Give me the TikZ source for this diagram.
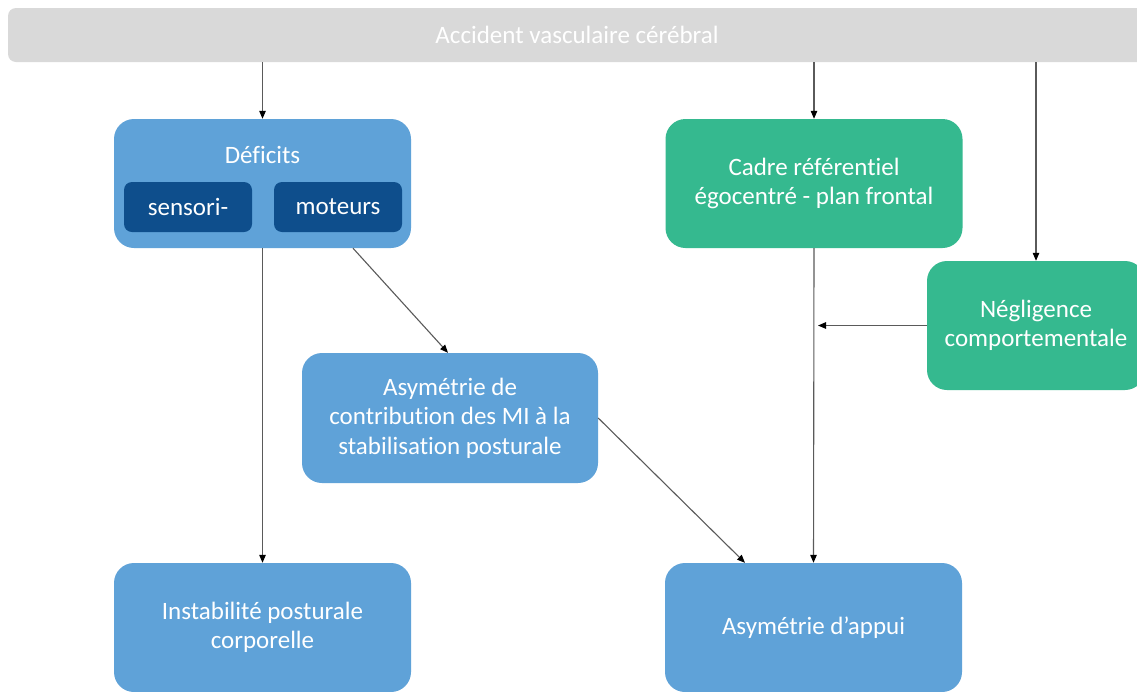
\documentclass[tikz,border=0pt]{standalone}
\usepackage{fontspec}
\setmainfont{Carlito}[Ligatures={NoCommon,NoRare,NoDiscretionary}]
\usetikzlibrary{arrows.meta,calc}
\definecolor{boxblue}{HTML}{5FA2D8}
\definecolor{boxgreen}{HTML}{35B98F}
\definecolor{innerblue}{HTML}{0E4E8C}
\definecolor{bargray}{HTML}{D9D9D9}
\definecolor{linegray}{HTML}{5A5A5A}
\begin{document}
\begin{tikzpicture}[x=1pt,y=-1pt,
  box/.style={rounded corners=20pt, inner sep=0pt, text=white, align=center,
    minimum width=297pt, minimum height=129pt, font=\fontsize{25}{29.5}\selectfont},
  bluebox/.style={box, fill=boxblue},
  greenbox/.style={box, fill=boxgreen},
  innerbox/.style={rounded corners=8pt, fill=innerblue, inner sep=0pt, text=white,
    minimum width=128pt, minimum height=50pt, font=\fontsize{25}{29.5}\selectfont},
  txt/.style={text=white, inner sep=0pt, font=\fontsize{25}{29.5}\selectfont},
  link/.style={draw=linegray, line width=1.1pt, -{Triangle[length=8pt,width=6.5pt,fill=black,color=black]}}]
\useasboundingbox (0,0) rectangle (1137,691);
\clip (0,0) rectangle (1137,691);
\fill[white] (0,0) rectangle (1137,691);
% top bar
\node[rounded corners=8pt, fill=bargray, minimum width=1138pt, minimum height=54pt, inner sep=0pt,
  text=white, font=\fontsize{25}{29.5}\selectfont] (avc) at (577,35) {Accident vasculaire cérébral};
% boxes
\node[bluebox] (def) at (262.5,183.5) {};
\node[txt] (deft) at (262.5,155) {Déficits};
\node[innerbox] (sens) at (188,207) {sensori-};
\node[innerbox] (mot) at (338,207) {moteurs};
\node[greenbox] (cadre) at (814,183.5) {Cadre référentiel\\égocentré - plan frontal};
\node[greenbox, minimum width=218pt] (neg) at (1036,325.5) {Négligence\\comportementale};
\node[bluebox, minimum width=296pt, minimum height=130pt] (contrib) at (450,418) {Asymétrie de\\contribution des MI à la\\stabilisation posturale};
\node[bluebox] (inst) at (262.5,627.5) {Instabilité posturale\\corporelle};
\node[bluebox] (appui) at (813.5,627.5) {Asymétrie d’appui};
% connectors
\draw[link] (avc.south -| def.north) -- (def.north);
\draw[link] (avc.south -| cadre.north) -- (cadre.north);
\draw[link] (avc.south -| neg.north) -- (neg.north);
\draw[link] (def.south) -- (inst.north);
\draw[link] ([xshift=90.5pt]def.south) -- ([xshift=-2pt]contrib.north);
\draw[link] (contrib.east) -- ([xshift=-68.5pt]appui.north);
\draw[link] (cadre.south) -- (appui.north);
\coordinate (join) at ($(neg.west -| cadre.south)+(4,0)$);
\draw[link] (neg.west) -- (join);
\end{tikzpicture}
\end{document}
